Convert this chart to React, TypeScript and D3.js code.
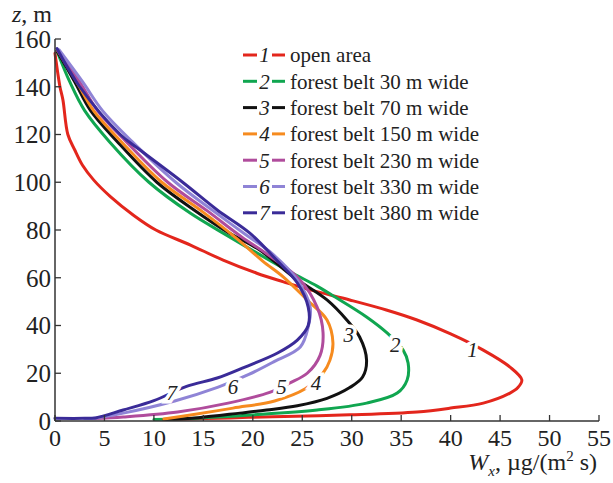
import React from "react";
import * as d3 from "d3";

// ---- data (Wx in µg/(m² s), z in m), each curve from top to bottom ----
const curve1: [number, number][] = [
  [0, 154], [0.5, 140], [0.8, 134.5], [1.3, 120], [2.0, 113.5], [2.8, 107], [3.9, 101], [5.6, 94],
  [8.0, 86], [10.2, 80], [13.7, 73.7], [17.0, 67.4], [20.4, 61.9], [23.1, 58.3], [25.8, 54.9],
  [29.8, 50.7], [33.5, 46.5], [36.6, 42.3], [40, 36.5], [43.3, 29.7], [46, 22.6], [47.2, 17.2],
  [46.8, 14], [46, 11.7], [43.3, 7.5], [40, 5.4], [36.6, 3.8], [29.8, 2.6], [22, 1.8], [17.7, 1.3], [12, 0.6],
];
const curve2: [number, number][] = [
  [0.2, 155], [1.5, 142], [3, 130], [5.5, 117], [9.5, 100], [13.7, 87], [17, 78.7], [20.4, 70.4],
  [23.8, 62.4], [26.5, 56.5], [28.1, 52.5], [31.5, 43.6], [33.6, 36.8], [35.2, 29.7], [35.7, 24.3],
  [35.6, 17.2], [34.6, 11.7], [31.5, 7.5], [26.5, 4.6], [19.7, 2.5], [14.7, 1.3], [10, 0.6],
];
const curve3: [number, number][] = [
  [0.2, 155], [2, 142], [3.6, 130], [6.3, 117], [10.3, 100], [14.2, 88], [17.5, 79], [20.7, 71.6],
  [24.1, 60.3], [27.5, 50.7], [29.5, 42.3], [30.8, 35.2], [31.5, 25.5], [31.1, 18.4], [29.8, 14],
  [27.5, 9.5], [24.5, 6.4], [21.4, 4.6], [18.7, 3.3], [14.5, 1.4], [11, 0.6],
];
const curve4: [number, number][] = [
  [0.3, 155], [2.2, 142], [3.9, 130], [6.7, 117], [10.8, 100], [14.8, 88], [18.5, 76], [21, 67],
  [23.1, 60.3], [25.5, 50.7], [27.5, 42.3], [28.1, 32.7], [27.8, 25.5], [27.1, 20.1], [25.3, 13.5],
  [22.2, 8.4], [18, 5.4], [13.7, 2.5], [11, 0.8],
];
const curve5: [number, number][] = [
  [0.3, 155], [2.5, 142], [4.3, 130], [7.2, 117], [11.4, 100], [15.4, 88], [18.9, 77], [21.4, 70],
  [24.8, 59], [26.5, 47.7], [27.1, 37], [26.8, 27.5], [25.5, 20], [23.7, 15.9], [21.7, 12],
  [17.5, 7.5], [12.4, 3.8], [6.9, 1.7], [4, 1],
];
const curve6: [number, number][] = [
  [0.4, 155.5], [2.8, 142], [4.8, 130], [7.8, 117], [12.2, 100], [16, 88], [19.3, 78], [21.7, 71],
  [24.5, 59], [25.8, 47.7], [25.6, 39.4], [24.8, 31], [22.2, 25], [19.6, 19.5], [16.5, 14.2],
  [12.1, 8.4], [6.9, 3.3], [4.2, 1.3], [3, 1],
];
const curve7: [number, number][] = [
  [0.2, 156], [2.5, 140], [6.6, 120], [8.6, 113.5], [13, 99.7], [16.4, 88.4], [19.7, 78.7],
  [22.4, 67.4], [24.5, 57.8], [25.6, 47.7], [25.6, 40], [24.5, 33.9], [22.5, 28.5], [19.2, 22.6],
  [16.4, 18], [13.3, 14.5], [10, 8.5], [6.9, 4.6], [4.1, 1.3], [3, 1.1], [0, 1.1],
];

const seriesNames = [
  "open area",
  "forest belt 30 m wide",
  "forest belt 70 m wide",
  "forest belt 150 m wide",
  "forest belt 230 m wide",
  "forest belt 330 m wide",
  "forest belt 380 m wide",
];
const seriesIds = ["1", "2", "3", "4", "5", "6", "7"];
const seriesData = [curve1, curve2, curve3, curve4, curve5, curve6, curve7];
const seriesColors = ["#e3261c", "#10a650", "#111111", "#f68b1f", "#b04c9c", "#8f84d6", "#3a2b98"];
// inline curve number label anchors (Wx, z)
const labelX = [42.2, 34.4, 29.7, 26.4, 22.9, 18.0, 11.8];
const labelZ = [29.7, 31.8, 36.0, 15.9, 14.2, 14.2, 11.7];

const xTicks = [0, 5, 10, 15, 20, 25, 30, 35, 40, 45, 50, 55];
const yTicks = [0, 20, 40, 60, 80, 100, 120, 140, 160];

const FONT = "'Liberation Serif', 'Times New Roman', serif";

export default function App() {
  const W = 613, H = 483;
  const x = d3.scaleLinear().domain([0, 55]).range([55, 599]);
  const y = d3.scaleLinear().domain([0, 160]).range([421, 39]);
  const line = d3
    .line<[number, number]>()
    .x((d) => x(d[0]))
    .y((d) => y(d[1]))
    .curve(d3.curveCatmullRom.alpha(0.5));

  const legX = 243, legY0 = 55, legDy = 26.3;

  return (
    <svg width={W} height={H} style={{ position: "absolute", left: 0, top: 0, background: "#fff" }} fontFamily={FONT}>
      {/* curves */}
      {seriesData.map((d, i) => (
        <path key={i} d={line(d) || ""} fill="none" stroke={seriesColors[i]} strokeWidth={3} strokeLinejoin="round" strokeLinecap="round" />
      ))}
      {/* inline labels with white halo (break in the line) */}
      {seriesIds.map((id, i) => (
        <text
          key={id}
          x={x(labelX[i])}
          y={y(labelZ[i])}
          dy="0.35em"
          textAnchor="middle"
          fontStyle="italic"
          fontSize={21}
          fill="#222"
          stroke="#fff"
          strokeWidth={7}
          paintOrder="stroke"
        >
          {id}
        </text>
      ))}

      {/* axes */}
      <line x1={x(0)} x2={x(55)} y1={y(0)} y2={y(0)} stroke="#333" strokeWidth={1.5} />
      <line x1={x(0)} x2={x(0)} y1={y(0)} y2={y(160)} stroke="#333" strokeWidth={1.5} />
      {xTicks.map((t) => (
        <g key={"x" + t}>
          <line x1={x(t)} x2={x(t)} y1={y(0)} y2={y(0) - 6} stroke="#333" strokeWidth={1.3} />
          <text x={x(t)} y={446} textAnchor="middle" fontSize={24} fill="#222">{t}</text>
        </g>
      ))}
      {yTicks.map((t) => (
        <g key={"y" + t}>
          <line x1={x(0)} x2={x(0) + 6} y1={y(t)} y2={y(t)} stroke="#333" strokeWidth={1.3} />
          <text x={51} y={y(t)} dy="0.35em" textAnchor="end" fontSize={25} fill="#222">{t}</text>
        </g>
      ))}

      {/* axis titles */}
      <text x={12} y={22} fontSize={24} fill="#222">
        <tspan fontStyle="italic">z</tspan>
        <tspan>, m</tspan>
      </text>
      <text x={597} y={470} textAnchor="end" fontSize={24} fill="#222">
        <tspan fontStyle="italic">W</tspan>
        <tspan fontStyle="italic" fontSize={15} dy={6}>x</tspan>
        <tspan dy={-6}>, µg/(m</tspan>
        <tspan fontSize={15} dy={-9}>2</tspan>
        <tspan dy={9}> s)</tspan>
      </text>

      {/* legend */}
      {seriesNames.map((name, i) => {
        const cy = legY0 + i * legDy;
        return (
          <g key={name}>
            <line x1={legX} x2={legX + 14} y1={cy} y2={cy} stroke={seriesColors[i]} strokeWidth={3} />
            <line x1={legX + 29} x2={legX + 42} y1={cy} y2={cy} stroke={seriesColors[i]} strokeWidth={3} />
            <text x={legX + 21.5} y={cy} dy="0.35em" textAnchor="middle" fontStyle="italic" fontSize={21} fill="#222">
              {seriesIds[i]}
            </text>
            <text x={legX + 47} y={cy} dy="0.35em" fontSize={21} fill="#222">{name}</text>
          </g>
        );
      })}
    </svg>
  );
}
